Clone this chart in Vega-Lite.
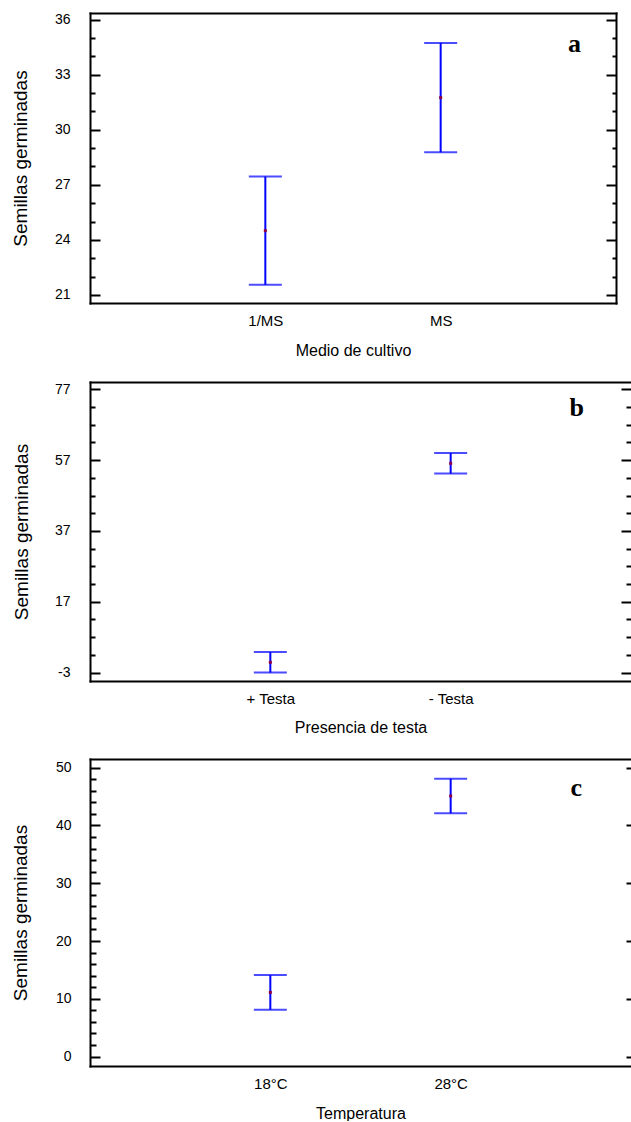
{
  "$schema": "https://vega.github.io/schema/vega-lite/v6.json",
  "padding": {"left": 11, "top": 12, "right": 0, "bottom": 0},
  "background": "white",
  "config": {
    "view": {"stroke": null},
    "font": "Liberation Sans",
    "axis": {
      "labelFont": "Liberation Sans",
      "labelColor": "black",
      "titleFont": "Liberation Sans",
      "titleColor": "black",
      "titleFontWeight": "normal",
      "domainColor": "black",
      "domainWidth": 2,
      "domainCap": "square",
      "tickColor": "black",
      "tickWidth": 2,
      "grid": false,
      "labelOverlap": false
    }
  },
  "spacing": 24,
  "align": "none",
  "datasets": {
    "medio": [
      {"grupo": "1/MS", "media": 24.5, "inf": 21.55, "sup": 27.45},
      {"grupo": "MS", "media": 31.75, "inf": 28.77, "sup": 34.73}
    ],
    "testa": [
      {"grupo": "+ Testa", "media": -0.1, "inf": -3.0, "sup": 2.8},
      {"grupo": "- Testa", "media": 56.1, "inf": 53.2, "sup": 59.0}
    ],
    "temp": [
      {"grupo": "18°C", "media": 11.1, "inf": 8.1, "sup": 14.1},
      {"grupo": "28°C", "media": 45.1, "inf": 42.1, "sup": 48.1}
    ]
  },
  "vconcat": [
    {
      "width": 526,
      "height": 290,
      "data": {"name": "medio"},
      "title": {"text": "a", "orient": "top", "anchor": "end", "frame": "group", "font": "Liberation Serif", "fontSize": 26, "fontWeight": "bold", "color": "black", "baseline": "alphabetic", "offset": -65, "dx": -35},
      "layer": [
        {
          "mark": {"type": "rule", "color": "#0000ff", "strokeWidth": 2},
          "encoding": {
            "x": {"field": "grupo", "type": "nominal", "sort": ["1/MS", "MS"], "scale": {"type": "point", "padding": 1.09},
                  "axis": {"orient": "bottom", "ticks": false, "labelAngle": 0, "labelFontSize": 15, "labelPadding": 10, "title": "Medio de cultivo", "titleFontSize": 16, "titlePadding": 14}},
            "y": {"field": "inf", "type": "quantitative", "scale": {"domain": [20.56, 36.36], "nice": false, "zero": false},
                  "axis": {"orient": "left", "values": [21,22,23,24,25,26,27,28,29,30,31,32,33,34,35,36],
                           "labelExpr": "datum.value % 3 === 0 ? '' + datum.value : ''",
                           "tickSize": {"condition": {"test": "datum.value % 3 === 0", "value": -10}, "value": -5},
                           "labelPadding": 30, "labelFontSize": 14,
                           "title": "Semillas germinadas", "titleFontSize": 19, "titlePadding": 24}},
            "y2": {"field": "sup"}
          }
        },
        {
          "mark": {"type": "tick", "color": "#0000ff", "size": 33, "thickness": 2},
          "encoding": {
            "x": {"field": "grupo", "type": "nominal", "sort": ["1/MS", "MS"],
                  "axis": {"orient": "top", "labels": false, "ticks": false, "title": null}},
            "y": {"field": "inf", "type": "quantitative",
                  "axis": {"orient": "right", "values": [21,22,23,24,25,26,27,28,29,30,31,32,33,34,35,36],
                           "labels": false, "title": null,
                           "tickSize": {"condition": {"test": "datum.value % 3 === 0", "value": -10}, "value": -4}}}
          }
        },
        {
          "mark": {"type": "tick", "color": "#0000ff", "size": 33, "thickness": 2},
          "encoding": {
            "x": {"field": "grupo", "type": "nominal", "sort": ["1/MS", "MS"], "axis": null},
            "y": {"field": "sup", "type": "quantitative", "axis": null}
          }
        },
        {
          "mark": {"type": "point", "shape": "square", "filled": true, "size": 9, "color": "#8b0045", "opacity": 1},
          "encoding": {
            "x": {"field": "grupo", "type": "nominal", "sort": ["1/MS", "MS"], "axis": null},
            "y": {"field": "media", "type": "quantitative", "axis": null}
          }
        }
      ],
      "resolve": {"axis": {"x": "independent", "y": "independent"}}
    },
    {
      "width": 541,
      "height": 299,
      "data": {"name": "testa"},
      "title": {"text": "b", "orient": "top", "anchor": "end", "frame": "group", "font": "Liberation Serif", "fontSize": 26, "fontWeight": "bold", "color": "black", "baseline": "alphabetic", "offset": -60, "dx": -47},
      "layer": [
        {
          "mark": {"type": "rule", "color": "#0000ff", "strokeWidth": 2},
          "encoding": {
            "x": {"field": "grupo", "type": "nominal", "sort": ["+ Testa", "- Testa"], "scale": {"type": "point", "padding": 1.09},
                  "axis": {"orient": "bottom", "ticks": false, "labelAngle": 0, "labelFontSize": 15, "labelPadding": 10, "title": "Presencia de testa", "titleFontSize": 16, "titlePadding": 13}},
            "y": {"field": "inf", "type": "quantitative", "scale": {"domain": [-5.37, 79.06], "nice": false, "zero": false},
                  "axis": {"orient": "left", "values": [-3,2,7,12,17,22,27,32,37,42,47,52,57,62,67,72,77],
                           "labelExpr": "(datum.value + 3) % 20 === 0 ? '' + datum.value : ''",
                           "tickSize": {"condition": {"test": "(datum.value + 3) % 20 === 0", "value": -10}, "value": -5},
                           "labelPadding": 30, "labelFontSize": 14,
                           "title": "Semillas germinadas", "titleFontSize": 19, "titlePadding": 23}},
            "y2": {"field": "sup"}
          }
        },
        {
          "mark": {"type": "tick", "color": "#0000ff", "size": 33, "thickness": 2},
          "encoding": {
            "x": {"field": "grupo", "type": "nominal", "sort": ["+ Testa", "- Testa"],
                  "axis": {"orient": "top", "labels": false, "ticks": false, "title": null}},
            "y": {"field": "inf", "type": "quantitative",
                  "axis": {"orient": "right", "values": [-3,2,7,12,17,22,27,32,37,42,47,52,57,62,67,72,77],
                           "labels": false, "title": null, "domain": false,
                           "tickSize": {"condition": {"test": "(datum.value + 3) % 20 === 0", "value": -10}, "value": -5}}}
          }
        },
        {
          "mark": {"type": "tick", "color": "#0000ff", "size": 33, "thickness": 2},
          "encoding": {
            "x": {"field": "grupo", "type": "nominal", "sort": ["+ Testa", "- Testa"], "axis": null},
            "y": {"field": "sup", "type": "quantitative", "axis": null}
          }
        },
        {
          "mark": {"type": "point", "shape": "square", "filled": true, "size": 9, "color": "#8b0045", "opacity": 1},
          "encoding": {
            "x": {"field": "grupo", "type": "nominal", "sort": ["+ Testa", "- Testa"], "axis": null},
            "y": {"field": "media", "type": "quantitative", "axis": null}
          }
        }
      ],
      "resolve": {"axis": {"x": "independent", "y": "independent"}}
    },
    {
      "width": 541,
      "height": 307,
      "data": {"name": "temp"},
      "title": {"text": "c", "orient": "top", "anchor": "end", "frame": "group", "font": "Liberation Serif", "fontSize": 26, "fontWeight": "bold", "color": "black", "baseline": "alphabetic", "offset": -63, "dx": -49},
      "layer": [
        {
          "mark": {"type": "rule", "color": "#0000ff", "strokeWidth": 2},
          "encoding": {
            "x": {"field": "grupo", "type": "nominal", "sort": ["18°C", "28°C"], "scale": {"type": "point", "padding": 1.056},
                  "axis": {"orient": "bottom", "ticks": false, "labelAngle": 0, "labelFontSize": 15, "labelPadding": 10, "title": "Temperatura", "titleFontSize": 16, "titlePadding": 14}},
            "y": {"field": "inf", "type": "quantitative", "scale": {"domain": [-1.63, 51.5], "nice": false, "zero": false},
                  "axis": {"orient": "left", "values": [0,2,4,6,8,10,12,14,16,18,20,22,24,26,28,30,32,34,36,38,40,42,44,46,48,50],
                           "labelExpr": "datum.value % 10 === 0 ? '' + datum.value : ''",
                           "tickSize": {"condition": {"test": "datum.value % 10 === 0", "value": -10}, "value": -6},
                           "labelPadding": 29, "labelFontSize": 14,
                           "title": "Semillas germinadas", "titleFontSize": 19, "titlePadding": 25}},
            "y2": {"field": "sup"}
          }
        },
        {
          "mark": {"type": "tick", "color": "#0000ff", "size": 33, "thickness": 2},
          "encoding": {
            "x": {"field": "grupo", "type": "nominal", "sort": ["18°C", "28°C"],
                  "axis": {"orient": "top", "labels": false, "ticks": false, "title": null}},
            "y": {"field": "inf", "type": "quantitative",
                  "axis": {"orient": "right", "values": [0,10,20,30,40,50],
                           "labels": false, "title": null, "domain": false, "tickSize": -5}}
          }
        },
        {
          "mark": {"type": "tick", "color": "#0000ff", "size": 33, "thickness": 2},
          "encoding": {
            "x": {"field": "grupo", "type": "nominal", "sort": ["18°C", "28°C"], "axis": null},
            "y": {"field": "sup", "type": "quantitative", "axis": null}
          }
        },
        {
          "mark": {"type": "point", "shape": "square", "filled": true, "size": 9, "color": "#8b0045", "opacity": 1},
          "encoding": {
            "x": {"field": "grupo", "type": "nominal", "sort": ["18°C", "28°C"], "axis": null},
            "y": {"field": "media", "type": "quantitative", "axis": null}
          }
        }
      ],
      "resolve": {"axis": {"x": "independent", "y": "independent"}}
    }
  ]
}
